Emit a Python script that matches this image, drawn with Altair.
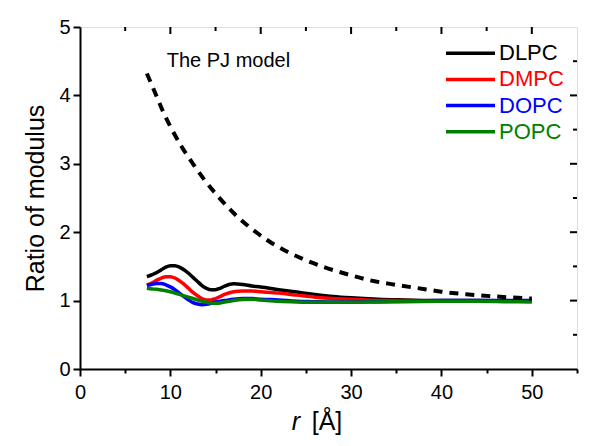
import altair as alt
import pandas as pd

# ---------------- data ----------------
r = [7.4, 8, 8.5, 9, 9.5, 10, 10.5, 11, 11.5, 12, 12.5, 13, 13.5, 14, 14.5, 15,
     15.5, 16, 17, 18, 19, 20, 22, 24, 26, 28, 30, 33, 36, 40, 44, 47, 50]
dlpc = [1.35, 1.38, 1.41, 1.45, 1.49, 1.51, 1.51, 1.49, 1.45, 1.40, 1.34, 1.28, 1.22,
        1.18, 1.16, 1.16, 1.18, 1.21, 1.245, 1.235, 1.215, 1.20, 1.16, 1.125, 1.09,
        1.06, 1.04, 1.02, 1.01, 1.0, 1.0, 0.995, 0.99]
dmpc = [1.23, 1.26, 1.30, 1.33, 1.35, 1.35, 1.33, 1.29, 1.24, 1.18, 1.12, 1.07, 1.03,
        1.01, 1.01, 1.03, 1.06, 1.09, 1.13, 1.14, 1.14, 1.13, 1.11, 1.08, 1.05,
        1.03, 1.02, 1.0, 1.0, 0.99, 0.99, 0.99, 0.99]
dopc = [1.22, 1.24, 1.25, 1.25, 1.23, 1.20, 1.16, 1.11, 1.06, 1.01, 0.97, 0.95, 0.94,
        0.945, 0.96, 0.98, 0.99, 1.0, 1.02, 1.03, 1.03, 1.02, 1.01, 0.99, 0.985,
        0.98, 0.98, 0.985, 0.99, 1.0, 1.0, 1.0, 1.0]
popc = [1.18, 1.17, 1.165, 1.155, 1.145, 1.13, 1.11, 1.09, 1.07, 1.05, 1.03, 1.01, 0.99,
        0.975, 0.965, 0.96, 0.965, 0.98, 1.0, 1.015, 1.02, 1.01, 0.99, 0.98, 0.975,
        0.975, 0.975, 0.98, 0.985, 0.99, 0.99, 0.985, 0.98]

pj_r = [7.4, 8.5, 9.2, 10.1, 11.25, 12.5, 13.8, 15.3, 17, 19, 21, 23, 25, 27, 30,
        32, 35, 38, 40, 43, 46, 50]
pj = [4.32, 3.98, 3.76, 3.52, 3.25, 3.0, 2.76, 2.52, 2.28, 2.05, 1.86, 1.71, 1.59,
      1.49, 1.37, 1.30, 1.23, 1.17, 1.13, 1.09, 1.06, 1.03]

series = ["DLPC", "DMPC", "DOPC", "POPC"]
colors = ["#000000", "#ff0000", "#0000ff", "#008000"]

x_ticks = [0, 5, 10, 15, 20, 25, 30, 35, 40, 45, 50, 55]
y_ticks = [0, 0.5, 1, 1.5, 2, 2.5, 3, 3.5, 4, 4.5, 5]

W, H = 497, 342
FONT = "Liberation Sans"

rows = []
for name, vals in zip(series, [dlpc, dmpc, dopc, popc]):
    for i, (rr, v) in enumerate(zip(r, vals)):
        rows.append({"r": rr, "v": v, "series": name, "order": i})
df = pd.DataFrame(rows)
df_pj = pd.DataFrame({"r": pj_r, "v": pj})

xscale = alt.Scale(domain=[0, 55], nice=False, zero=False)
yscale = alt.Scale(domain=[0, 5], nice=False, zero=False)
cscale = alt.Scale(domain=series, range=colors)

xaxis = alt.Axis(
    values=x_ticks, title=None,
    labelExpr="datum.value % 10 ? '' : format(datum.value, 'd')",
    tickSize={"condition": {"test": "datum.value % 10 != 0", "value": 4}, "value": 7},
    labelFontSize=20, labelFont=FONT, labelColor="black", labelPadding=6,
    domainColor="black", domainWidth=2, tickColor="black", tickWidth=2, grid=False,
    labelFlush=False,
)
yaxis = alt.Axis(
    values=y_ticks, title="Ratio of modulus",
    labelExpr="datum.value % 1 ? '' : format(datum.value, 'd')",
    tickSize={"condition": {"test": "datum.value % 1 != 0", "value": 4}, "value": 7},
    labelFontSize=20, labelFont=FONT, labelColor="black", labelPadding=3,
    domainColor="black", domainWidth=2, tickColor="black", tickWidth=2, grid=False,
    titleFontSize=25, titleFont=FONT, titleFontWeight="normal", titleColor="black",
    titlePadding=10, labelFlush=False,
)

lines = alt.Chart(df).mark_line(strokeWidth=3.5, interpolate="monotone").encode(
    x=alt.X("r:Q", scale=xscale, axis=xaxis),
    y=alt.Y("v:Q", scale=yscale, axis=yaxis),
    color=alt.Color("series:N", scale=cscale, legend=None),
    detail="series:N",
    order="order:Q",
)

pj_line = alt.Chart(df_pj).mark_line(
    strokeWidth=4, color="black", strokeDash=[9, 7], interpolate="monotone"
).encode(x=alt.X("r:Q", scale=xscale), y=alt.Y("v:Q", scale=yscale))

pj_text = alt.Chart(pd.DataFrame({"t": ["The PJ model"]})).mark_text(
    align="left", baseline="middle", fontSize=20, font=FONT, color="black"
).encode(text="t:N", x=alt.datum(9.6), y=alt.datum(4.51))

# inward mirror ticks on top / right borders
top_major = alt.Chart(pd.DataFrame({"t": [v for v in x_ticks if v % 10 == 0 and 0 < v < 55]})).mark_rule(
    color="black", strokeWidth=2).encode(x=alt.X("t:Q", scale=xscale), y=alt.value(0), y2=alt.value(7))
top_minor = alt.Chart(pd.DataFrame({"t": [v for v in x_ticks if v % 10 != 0 and 0 < v < 55]})).mark_rule(
    color="black", strokeWidth=2).encode(x=alt.X("t:Q", scale=xscale), y=alt.value(0), y2=alt.value(4))
right_major = alt.Chart(pd.DataFrame({"t": [v for v in y_ticks if v % 1 == 0 and 0 < v < 5]})).mark_rule(
    color="black", strokeWidth=2).encode(y=alt.Y("t:Q", scale=yscale), x=alt.value(W), x2=alt.value(W - 7))
right_minor = alt.Chart(pd.DataFrame({"t": [v for v in y_ticks if v % 1 != 0 and 0 < v < 5]})).mark_rule(
    color="black", strokeWidth=2).encode(y=alt.Y("t:Q", scale=yscale), x=alt.value(W), x2=alt.value(W - 4))

# x-axis title with italic r
xt_r = alt.Chart(pd.DataFrame({"t": ["r"]})).mark_text(
    align="center", baseline="middle", fontSize=25, font=FONT, fontStyle="italic", color="black"
).encode(text="t:N", x=alt.value(216), y=alt.value(395))
xt_rest = alt.Chart(pd.DataFrame({"t": ["[Å]"]})).mark_text(
    align="center", baseline="middle", fontSize=25, font=FONT, color="black"
).encode(text="t:N", x=alt.value(247), y=alt.value(395))

main = alt.layer(lines, pj_line, pj_text, top_major, top_minor, right_major, right_minor, xt_r, xt_rest)

# legend
leg_df = pd.DataFrame({"series": series, "idx": list(range(len(series)))})
leg_y = alt.Y("idx:Q", scale=alt.Scale(domain=[0, len(series) - 1], range=[26.3, 104.7]), axis=None)
leg_rule = alt.Chart(leg_df).mark_rule(strokeWidth=3.5).encode(
    x=alt.value(366), x2=alt.value(415), y=leg_y,
    color=alt.Color("series:N", scale=cscale, legend=None))
leg_text = alt.Chart(leg_df).mark_text(align="left", baseline="middle", fontSize=22, font=FONT).encode(
    x=alt.value(419), y=leg_y, text="series:N",
    color=alt.Color("series:N", scale=cscale, legend=None))
legend = alt.layer(leg_rule, leg_text)

chart = alt.layer(main, legend).resolve_scale(y="independent").properties(
    width=W, height=H,
    padding={"left": 72, "top": 19, "right": 15, "bottom": 75},
    autosize=alt.AutoSizeParams(type="none"),
).configure_view(stroke="black", strokeWidth=2).configure(background="white")

chart.save("out.html", embed_options={"renderer": "svg", "actions": False})
